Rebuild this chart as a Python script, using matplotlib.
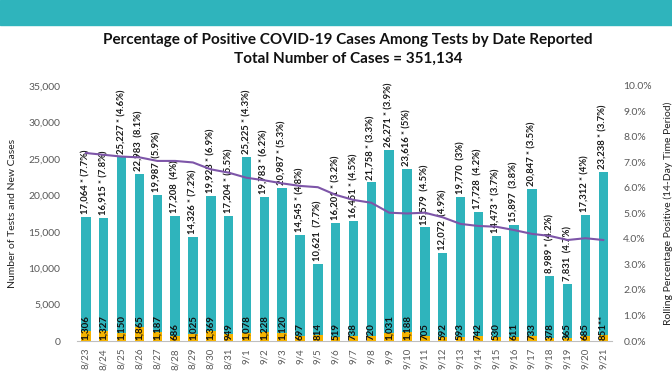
import matplotlib.pyplot as plt
from matplotlib.patches import Rectangle

plt.rcParams['font.family'] = ['Lato', 'DejaVu Sans']

# Data
dates = ["8/23", "8/24", "8/25", "8/26", "8/27", "8/28", "8/29", "8/30", "8/31", "9/1",
         "9/2", "9/3", "9/4", "9/5", "9/6", "9/7", "9/8", "9/9", "9/10", "9/11",
         "9/12", "9/13", "9/14", "9/15", "9/16", "9/17", "9/18", "9/19", "9/20", "9/21"]
tests = [17064, 16915, 25227, 22983, 19987, 17208, 14326, 19923, 17204, 25225,
         19783, 20987, 14545, 10621, 16201, 16451, 21758, 26271, 23616, 15579,
         12072, 19770, 17728, 14473, 15897, 20847, 8989, 7831, 17312, 23238]
cases = [1306, 1327, 1150, 1865, 1187, 686, 1025, 1369, 949, 1078,
         1228, 1120, 697, 814, 519, 738, 720, 1031, 1188, 705,
         592, 593, 742, 530, 611, 733, 378, 365, 685, 851]
daily_pct = [7.7, 7.8, 4.6, 8.1, 5.9, 4, 7.2, 6.9, 5.5, 4.3,
             6.2, 5.3, 4.8, 7.7, 3.2, 4.5, 3.3, 3.9, 5, 4.5,
             4.9, 3, 4.2, 3.7, 3.8, 3.5, 4.2, 4.7, 4, 3.7]
starred = [1, 1, 1, 0, 0, 0, 1, 1, 1, 1,
           1, 1, 1, 0, 1, 1, 1, 1, 1, 0,
           0, 0, 0, 1, 0, 1, 1, 0, 1, 1]
case_marks = [""] * 29 + ["**"]
rolling_pct = [7.37, 7.3, 7.23, 7.2, 7.06, 7.06, 7.0, 6.73, 6.6, 6.4,
               6.3, 6.18, 6.08, 6.03, 5.73, 5.53, 5.42, 5.03, 5.0, 5.03,
               4.85, 4.59, 4.51, 4.48, 4.35, 4.2, 4.12, 3.96, 4.03, 3.96]

teal = "#2fb4bc"
gold = "#f5b300"
purple = "#7d55a8"
grey = "#595959"

fig = plt.figure(figsize=(6.72, 3.72), dpi=100)
fig.patches.append(Rectangle((0, 0.933), 1, 0.067, transform=fig.transFigure,
                             color=teal, zorder=0))
fig.text(0.518, 0.893, "Percentage of Positive COVID-19 Cases Among Tests by Date Reported",
         ha="center", va="center", fontsize=11, fontweight="bold", color="#111111")
fig.text(0.518, 0.843, "Total Number of Cases = 351,134",
         ha="center", va="center", fontsize=11, fontweight="bold", color="#111111")

ax = fig.add_axes([0.1146, 0.0833, 0.7964, 0.6857])
x = list(range(len(dates)))
ax.bar(x, tests, width=0.53, color=teal, zorder=2)
ax.bar(x, cases, width=0.53, color=gold, zorder=3)

for i in x:
    star = " *" if starred[i] else " "
    label = f"{tests[i]:,}{star} ({daily_pct[i]:g}%)"
    ax.text(i, tests[i] + 400, label, rotation=90, ha="center", va="bottom",
            fontsize=6.8, fontweight="bold", color="#1a1a1a", zorder=5)
    ax.text(i, 120, f"{cases[i]:,}{case_marks[i]}", rotation=90, ha="center",
            va="bottom", fontsize=7, fontweight="bold", color="#111111", zorder=5)

ax.set_xlim(-0.5, len(dates) - 0.5)
ax.set_ylim(0, 35000)
ax.set_yticks(range(0, 35001, 5000))
ax.set_yticklabels([f"{v:,}" for v in range(0, 35001, 5000)])
ax.set_xticks(x)
ax.set_xticklabels(dates, rotation=90)
ax.tick_params(axis="x", length=0, pad=5, labelsize=7, labelcolor=grey)
ax.tick_params(axis="y", length=0, pad=12, labelsize=7.5, labelcolor=grey)
for s in ["top", "right", "left"]:
    ax.spines[s].set_visible(False)
ax.spines["bottom"].set_color("#bfbfbf")
ax.set_ylabel("Number of Tests and New Cases", fontsize=7.5, color="#222222", labelpad=8)

ax2 = ax.twinx()
ax2.plot(x, [p / 100 for p in rolling_pct], color=purple, linewidth=1.5, zorder=4)
ax2.set_ylim(0, 0.10)
ax2.set_yticks([i / 100 for i in range(11)])
ax2.set_yticklabels([f"{i}.0%" for i in range(11)])
ax2.tick_params(axis="y", length=0, pad=8, labelsize=7.5, labelcolor=grey)
for s in ["top", "right", "left", "bottom"]:
    ax2.spines[s].set_visible(False)
ax2.set_ylabel("Rolling Percentage Positive (14-Day Time Period)", fontsize=7.5,
               color="#222222", labelpad=8)

fig.savefig("out.png", dpi=100)
